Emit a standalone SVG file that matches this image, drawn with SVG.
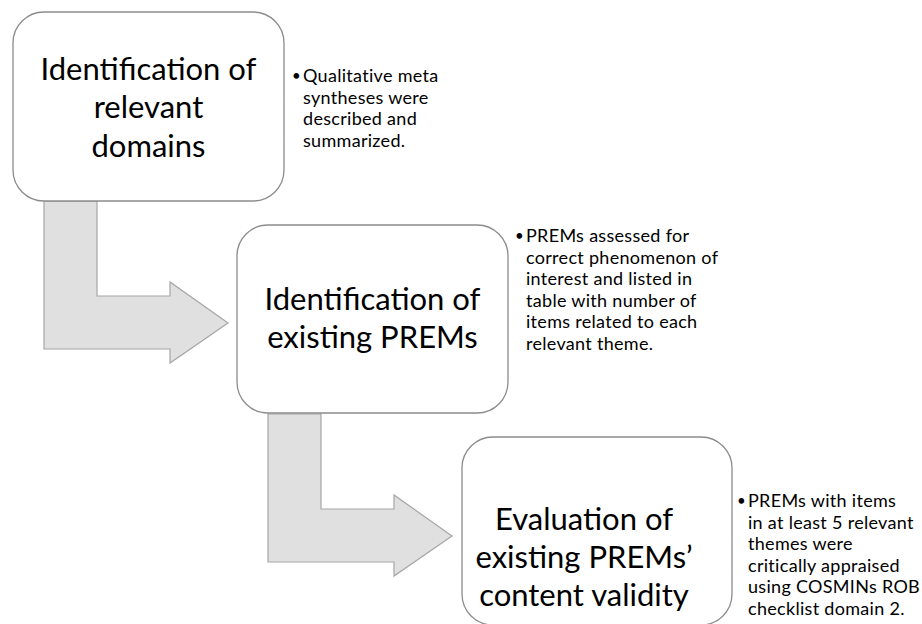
<svg xmlns="http://www.w3.org/2000/svg" width="922" height="624" viewBox="0 0 922 624">
<style>
.box{fill:#ffffff;stroke:#8c8c8c;stroke-width:1.3}
.arrow{fill:#e0e0e0;stroke:#a6a6a6;stroke-width:1.2}
.title{font-family:Lato,"Liberation Sans",sans-serif;font-size:31px;fill:#000;text-anchor:middle}
.note{font-family:Lato,"Liberation Sans",sans-serif;font-size:18px;letter-spacing:0.3px;fill:#000}
.dot{font-family:Lato,"Liberation Sans",sans-serif;font-size:15px;fill:#000}
</style>
<rect width="922" height="624" fill="#ffffff"/>
<g id="connectors">
<path class="arrow" d="M44,201 L97,201 L97,296 L170,296 L170,282 L228,323 L170,363 L170,349 L44,349 Z"/>
<path class="arrow" d="M268,414 L321,414 L321,509 L394,509 L394,495 L452,536 L394,576 L394,562 L268,562 Z"/>
</g>
<g id="node1">
<rect class="box" x="13" y="12" width="271" height="189" rx="31"/>
<text class="title" x="148.5" y="80">Identification of</text>
<text class="title" x="148.5" y="118">relevant</text>
<text class="title" x="148.5" y="157">domains</text>
</g>
<g id="note1">
<text class="dot" x="292" y="81">•</text>
<text class="note"><tspan x="303" y="82">Qualitative meta</tspan><tspan x="303" y="103.6">syntheses were</tspan><tspan x="303" y="125.2">described and</tspan><tspan x="303" y="146.8">summarized.</tspan></text>
</g>
<g id="node2">
<rect class="box" x="237" y="225" width="271" height="188" rx="31"/>
<text class="title" x="372.5" y="310">Identification of</text>
<text class="title" x="372.5" y="348">existing PREMs</text>
</g>
<g id="note2">
<text class="dot" x="515" y="241">•</text>
<text class="note"><tspan x="526" y="242">PREMs assessed for</tspan><tspan x="526" y="263.6">correct phenomenon of</tspan><tspan x="526" y="285.2">interest and listed in</tspan><tspan x="526" y="306.8">table with number of</tspan><tspan x="526" y="328.4">items related to each</tspan><tspan x="526" y="350">relevant theme.</tspan></text>
</g>
<g id="node3">
<rect class="box" x="462" y="437" width="270" height="188" rx="31"/>
<text class="title" x="584" y="530">Evaluation of</text>
<text class="title" x="584" y="568">existing PREMs’</text>
<text class="title" x="584" y="606">content validity</text>
</g>
<g id="note3">
<text class="dot" x="737" y="506">•</text>
<text class="note"><tspan x="748" y="507">PREMs with items</tspan><tspan x="748" y="528.6">in at least 5 relevant</tspan><tspan x="748" y="550.2">themes were</tspan><tspan x="748" y="571.8">critically appraised</tspan><tspan x="748" y="593.4">using COSMINs ROB</tspan><tspan x="748" y="615">checklist domain 2.</tspan></text>
</g>
</svg>
